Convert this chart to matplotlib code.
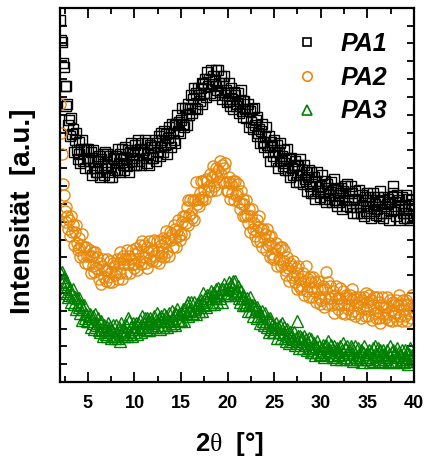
import numpy as np
import matplotlib
matplotlib.use("Agg")
import matplotlib.pyplot as plt
from matplotlib.ticker import MultipleLocator, NullFormatter
from matplotlib.lines import Line2D

plt.rcParams['font.family'] = ['Liberation Sans', 'DejaVu Sans']
plt.rcParams['mathtext.fontset'] = 'custom'
plt.rcParams['mathtext.rm'] = 'Liberation Serif'
plt.rcParams['mathtext.it'] = 'Liberation Serif'

# 2theta grid, 0.1 deg steps from 2 to 40
two_theta = np.round(np.arange(2.0, 40.001, 0.1), 1)

# PA1 (black squares), one row per degree
pa1 = [
    20.3, 19.2, 19.1, 17.9, 17.7, 16.6, 16.6, 15.5, 15.6, 14.4,
    14.7, 13.8, 14.8, 13.9, 14.2, 12.9, 13.6, 14.0, 13.0, 12.5,
    12.8, 13.5, 12.3, 13.1, 13.6, 12.4, 13.0, 12.0, 13.1, 12.6,
    13.1, 12.4, 12.0, 12.9, 11.6, 12.6, 13.0, 12.0, 12.4, 11.8,
    11.8, 12.4, 12.7, 11.5, 12.5, 12.0, 12.8, 11.6, 12.9, 12.0,
    12.2, 12.8, 11.8, 11.5, 12.7, 12.1, 11.5, 12.6, 12.5, 11.9,
    12.7, 11.9, 13.1, 12.3, 12.8, 11.8, 12.6, 13.1, 12.2, 11.9,
    13.2, 12.5, 12.1, 13.0, 11.8, 12.9, 13.4, 12.4, 12.8, 12.2,
    12.6, 13.3, 12.2, 13.0, 13.6, 12.4, 13.1, 12.2, 13.4, 12.9,
    13.0, 13.6, 12.6, 12.3, 13.4, 12.8, 12.2, 13.3, 13.2, 12.6,
    12.6, 13.2, 13.6, 12.4, 13.4, 12.9, 13.8, 12.7, 14.0, 13.2,
    13.6, 12.9, 14.1, 13.3, 13.9, 12.8, 13.7, 14.3, 13.5, 13.2,
    14.5, 14.0, 13.6, 14.5, 13.4, 14.4, 15.0, 14.1, 14.6, 14.0,
    14.7, 15.4, 14.5, 14.3, 15.4, 15.0, 14.4, 15.6, 15.4, 15.0,
    15.3, 16.1, 15.1, 15.9, 16.5, 15.4, 16.2, 15.3, 16.5, 16.1,
    15.8, 16.5, 16.8, 15.6, 16.7, 16.2, 17.0, 16.0, 17.4, 16.6,
    17.0, 16.2, 17.5, 16.7, 17.2, 16.1, 16.9, 17.5, 16.6, 16.4,
    17.5, 16.8, 16.3, 17.2, 15.9, 16.8, 17.2, 16.1, 16.4, 15.7,
    16.2, 16.8, 15.8, 15.5, 16.5, 15.9, 15.3, 16.3, 16.1, 15.5,
    15.6, 16.2, 15.1, 15.8, 16.4, 15.2, 15.8, 14.9, 15.8, 15.3,
    14.8, 15.3, 15.6, 14.3, 15.2, 14.6, 15.3, 14.2, 15.4, 14.4,
    14.7, 13.8, 14.9, 14.0, 14.2, 13.4, 14.1, 14.5, 13.5, 13.2,
    13.8, 14.3, 13.3, 12.9, 13.8, 13.2, 12.4, 13.5, 13.3, 12.7,
    13.6, 12.9, 12.4, 13.3, 12.0, 12.9, 13.4, 12.4, 12.7, 12.1,
    12.3, 13.0, 11.9, 12.6, 13.1, 11.9, 12.5, 11.5, 12.6, 12.0,
    11.6, 12.2, 12.4, 11.2, 12.1, 11.6, 12.2, 11.2, 12.5, 11.6,
    11.9, 11.1, 12.2, 11.4, 11.8, 10.7, 11.5, 11.9, 11.0, 10.6,
    11.8, 11.1, 10.6, 11.5, 10.3, 11.3, 11.8, 10.7, 11.0, 10.4,
    11.0, 11.6, 10.6, 10.3, 11.3, 10.7, 10.1, 11.1, 10.9, 10.3,
    10.5, 11.2, 10.1, 10.8, 11.4, 10.2, 10.8, 9.9, 10.9, 10.5,
    10.1, 10.6, 10.9, 9.7, 10.7, 10.2, 11.0, 9.9, 11.1, 10.2,
    10.6, 9.8, 11.0, 10.2, 10.6, 9.5, 10.3, 10.7, 9.8, 9.5,
    10.2, 10.8, 9.8, 9.5, 10.5, 9.9, 9.3, 10.4, 10.2, 9.6,
    10.6, 9.9, 9.5, 10.4, 9.2, 10.2, 10.6, 9.6, 10.0, 9.4,
    9.7, 10.4, 9.3, 10.1, 10.7, 9.5, 10.2, 9.2, 10.4, 9.9,
    9.5, 10.0, 10.3, 9.1, 10.1, 9.6, 10.4, 11.0, 10.6, 9.7,
    10.1, 9.3, 10.5, 9.7, 10.2, 9.1, 9.9, 10.4, 9.5, 9.2,
    9.9, 10.5, 9.5, 9.2, 10.3, 9.7, 9.1, 10.2, 10.0, 9.4,
    9.9,
]

# PA2 (orange circles)
pa2 = [
    15.6, 14.0, 12.8, 11.1, 10.5, 9.6, 9.8, 9.0, 9.3, 8.6,
    9.1, 8.2, 9.3, 8.4, 8.8, 7.7, 8.4, 8.8, 7.8, 7.4,
    7.5, 8.1, 7.0, 7.7, 8.3, 7.1, 7.6, 6.7, 7.6, 7.1,
    6.6, 7.1, 7.4, 6.1, 7.1, 6.5, 7.3, 6.2, 7.3, 6.4,
    7.0, 6.3, 5.8, 6.7, 5.5, 6.5, 6.9, 5.9, 6.3, 5.7,
    6.3, 6.9, 5.9, 5.6, 6.8, 6.2, 5.6, 6.7, 6.5, 6.0,
    6.2, 6.9, 5.8, 6.7, 7.3, 6.1, 6.9, 5.8, 7.1, 6.6,
    6.9, 6.1, 7.4, 6.6, 7.1, 6.1, 6.9, 7.4, 6.6, 6.4,
    6.6, 7.2, 7.5, 6.3, 7.3, 6.8, 7.7, 6.6, 7.9, 7.0,
    7.7, 7.0, 6.7, 7.6, 6.4, 7.3, 7.9, 6.9, 7.4, 6.8,
    7.4, 8.0, 7.1, 6.8, 7.9, 7.3, 6.7, 7.9, 7.7, 7.1,
    7.3, 8.1, 7.0, 7.8, 8.5, 7.3, 8.1, 7.1, 8.4, 8.0,
    8.3, 7.6, 8.8, 8.1, 8.6, 7.6, 8.5, 9.1, 8.2, 8.0,
    8.3, 9.0, 9.3, 8.3, 9.3, 8.9, 9.8, 8.8, 10.2, 9.4,
    10.2, 9.5, 9.2, 10.2, 9.1, 10.2, 11.2, 10.0, 10.3, 9.9,
    10.6, 11.3, 10.4, 10.2, 11.3, 10.8, 10.3, 11.4, 11.3, 10.7,
    11.0, 11.7, 10.7, 11.5, 12.1, 11.0, 11.7, 10.8, 12.0, 11.5,
    11.9, 11.2, 12.4, 11.7, 12.2, 11.2, 12.0, 12.3, 11.2, 10.7,
    10.7, 11.2, 11.5, 10.3, 11.1, 10.6, 11.3, 10.2, 11.3, 10.5,
    10.6, 11.1, 10.1, 9.7, 10.7, 10.0, 9.3, 10.3, 10.0, 9.3,
    10.2, 9.4, 8.9, 9.7, 8.4, 9.3, 9.7, 8.6, 8.9, 8.2,
    8.5, 9.1, 7.9, 8.7, 9.3, 7.9, 8.6, 7.6, 8.6, 8.1,
    8.3, 7.4, 8.6, 7.7, 8.2, 7.0, 7.8, 8.2, 7.2, 6.9,
    7.0, 7.5, 7.8, 6.5, 7.4, 6.9, 7.6, 6.5, 7.6, 6.7,
    6.8, 7.4, 6.3, 6.0, 7.0, 6.4, 5.7, 6.7, 6.5, 5.9,
    6.8, 6.0, 5.6, 6.4, 5.2, 6.1, 6.5, 5.4, 5.8, 5.2,
    5.4, 6.1, 4.9, 5.7, 6.5, 5.1, 5.8, 4.8, 5.9, 5.3,
    5.6, 4.8, 5.9, 5.1, 5.6, 4.5, 5.2, 5.7, 4.8, 4.4,
    4.6, 5.2, 5.4, 4.2, 5.2, 4.7, 6.2, 4.4, 5.6, 4.7,
    5.4, 4.7, 4.3, 5.1, 3.9, 4.9, 5.4, 4.4, 4.7, 4.1,
    4.7, 5.3, 4.3, 3.9, 5.1, 4.4, 3.8, 4.9, 4.7, 4.1,
    4.3, 4.9, 3.8, 4.6, 5.2, 4.0, 4.7, 3.7, 4.8, 4.3,
    3.9, 4.5, 4.8, 3.6, 4.6, 4.1, 4.8, 3.7, 5.0, 4.1,
    4.5, 3.7, 4.9, 4.1, 4.6, 3.5, 4.3, 4.8, 3.9, 3.6,
    4.8, 4.0, 3.6, 4.5, 3.3, 4.3, 4.8, 3.8, 4.2, 3.6,
    4.2, 4.8, 3.8, 3.5, 4.6, 4.0, 3.4, 4.5, 4.3, 3.7,
    3.9, 4.6, 3.5, 4.3, 4.9, 3.7, 4.4, 3.4, 4.6, 4.1,
    3.7, 4.3, 4.6, 3.4, 4.4, 3.9, 4.7, 3.6, 4.9, 4.0,
    4.2,
]

# PA3 (green triangles)
pa3 = [
    6.2, 5.6, 6.2, 5.7, 5.9, 5.1, 5.5, 5.7, 5.0, 4.8,
    4.9, 5.2, 4.5, 4.9, 5.2, 4.4, 4.8, 4.1, 4.7, 4.4,
    4.7, 4.2, 3.9, 4.3, 3.5, 4.1, 4.3, 3.6, 3.8, 3.4,
    3.4, 3.7, 3.8, 3.1, 3.6, 3.3, 3.7, 3.0, 3.8, 3.2,
    3.3, 3.6, 2.9, 2.8, 3.4, 3.0, 2.6, 3.2, 3.0, 2.7,
    3.1, 2.6, 3.3, 2.8, 3.1, 2.5, 2.9, 3.2, 2.6, 2.5,
    3.2, 2.8, 2.5, 3.1, 2.3, 2.9, 3.3, 2.7, 2.9, 2.6,
    2.8, 3.2, 2.6, 3.6, 3.4, 2.7, 3.1, 2.6, 3.3, 3.0,
    2.8, 3.1, 3.3, 2.7, 3.3, 3.0, 3.5, 2.8, 3.7, 3.1,
    3.3, 3.6, 3.0, 2.9, 3.6, 3.3, 2.9, 3.6, 3.4, 3.1,
    3.3, 3.7, 3.1, 3.5, 3.9, 3.2, 3.6, 3.0, 3.7, 3.4,
    3.6, 3.1, 3.8, 3.4, 3.7, 3.1, 3.5, 3.9, 3.4, 3.2,
    4.0, 3.6, 3.3, 3.9, 3.2, 3.8, 4.1, 3.5, 3.8, 3.4,
    3.5, 3.9, 4.1, 3.4, 4.1, 3.8, 4.3, 3.7, 4.5, 4.0,
    4.1, 4.5, 3.9, 3.8, 4.5, 4.1, 3.8, 4.4, 4.3, 4.0,
    4.2, 4.6, 4.0, 4.5, 5.0, 4.3, 4.7, 4.2, 4.9, 4.7,
    4.9, 4.4, 5.1, 4.7, 5.0, 4.4, 4.9, 5.2, 4.7, 4.5,
    5.3, 4.9, 4.7, 5.2, 4.5, 5.2, 5.5, 4.9, 5.2, 4.9,
    5.0, 5.3, 5.6, 4.9, 5.5, 5.3, 5.7, 5.0, 5.7, 5.1,
    5.1, 5.4, 4.7, 4.5, 5.1, 4.7, 4.3, 4.9, 4.7, 4.3,
    4.4, 4.7, 4.0, 4.4, 4.8, 4.0, 4.3, 3.7, 4.3, 4.0,
    4.1, 3.6, 4.2, 3.7, 4.0, 3.3, 3.7, 4.0, 3.4, 3.2,
    3.9, 3.4, 3.1, 3.6, 2.8, 3.4, 3.6, 3.0, 3.2, 2.8,
    2.8, 3.1, 3.3, 2.5, 3.1, 2.8, 3.2, 2.5, 3.3, 2.7,
    2.8, 3.1, 2.5, 2.3, 3.0, 2.6, 2.2, 2.8, 2.6, 2.3,
    2.4, 2.8, 2.1, 2.5, 3.4, 2.2, 2.6, 1.9, 2.6, 2.3,
    2.5, 1.9, 2.6, 2.1, 2.4, 1.8, 2.2, 2.5, 1.9, 1.7,
    2.4, 1.9, 1.7, 2.2, 1.5, 2.0, 2.3, 1.7, 2.0, 1.6,
    1.6, 1.9, 2.1, 1.4, 2.0, 1.7, 2.1, 1.5, 2.3, 1.7,
    1.8, 2.1, 1.5, 1.4, 2.0, 1.7, 1.3, 1.9, 1.8, 1.5,
    1.6, 2.0, 1.3, 1.8, 2.2, 1.4, 1.9, 1.3, 2.0, 1.7,
    1.8, 1.3, 2.0, 1.6, 1.9, 1.2, 1.7, 2.0, 1.4, 1.3,
    1.9, 1.5, 1.3, 1.8, 1.1, 1.7, 2.0, 1.4, 1.6, 1.3,
    1.3, 1.6, 1.8, 1.1, 1.7, 1.4, 1.9, 1.2, 2.0, 1.5,
    1.6, 1.9, 1.3, 1.2, 1.8, 1.5, 1.1, 1.8, 1.6, 1.3,
    1.4, 1.8, 1.1, 1.6, 2.0, 1.2, 1.7, 1.1, 1.8, 1.5,
    1.7, 1.2, 1.9, 1.4, 1.7, 1.1, 1.5, 1.8, 1.3, 1.1,
    1.8, 1.4, 1.2, 1.7, 1.0, 1.6, 1.9, 1.3, 1.5, 1.2,
    1.6,
]

labels = ['PA1', 'PA2', 'PA3']
colors = ['black', '#E8890C', '#008000']
markers = ['s', 'o', '^']
sizes = [7.6, 8.0, 8.6]

fig = plt.figure(figsize=(4.25, 4.62), dpi=100)
ax = fig.add_axes([0.141, 0.173, 0.833, 0.810])

for y, c, m, ms in zip([pa1, pa2, pa3], colors, markers, sizes):
    ax.plot(two_theta, y, linestyle='none', marker=m, markersize=ms,
            markerfacecolor='none', markeredgecolor=c, markeredgewidth=1.0)

ax.set_xlim(2, 40)
ax.set_ylim(0, 21)
ax.xaxis.set_major_locator(MultipleLocator(5))
ax.xaxis.set_minor_locator(MultipleLocator(2.5))
ax.yaxis.set_major_locator(MultipleLocator(1))
ax.yaxis.set_major_formatter(NullFormatter())
ax.tick_params(which='both', direction='in', top=True, right=True, width=1.3)
ax.tick_params(which='major', axis='x', length=7, labelsize=13, pad=9)
ax.tick_params(which='minor', axis='x', length=4)
ax.tick_params(which='major', axis='y', length=5)
for lab in ax.get_xticklabels():
    lab.set_fontweight('bold')
for sp in ax.spines.values():
    sp.set_linewidth(1.6)

ax.set_xlabel('2$\\theta$  [\u00b0]', fontsize=18.5, fontweight='bold')
ax.xaxis.set_label_coords(0.48, -0.128)
ax.set_ylabel('Intensit\u00e4t  [a.u.]', fontsize=20, fontweight='bold')
ax.yaxis.set_label_coords(-0.068, 0.457)

handles = [Line2D([], [], linestyle='none', marker=m, markersize=ms,
                  markerfacecolor='none', markeredgecolor=c, markeredgewidth=1.2)
           for c, m, ms in zip(colors, markers, [6.2, 6.8, 7.6])]
ax.legend(handles, labels, loc='upper right', bbox_to_anchor=(0.988, 0.996),
          frameon=False, handletextpad=0.85, labelspacing=0.39, handlelength=1.0,
          prop={'weight': 'bold', 'style': 'italic', 'size': 18})

fig.savefig('out.png', dpi=100)
